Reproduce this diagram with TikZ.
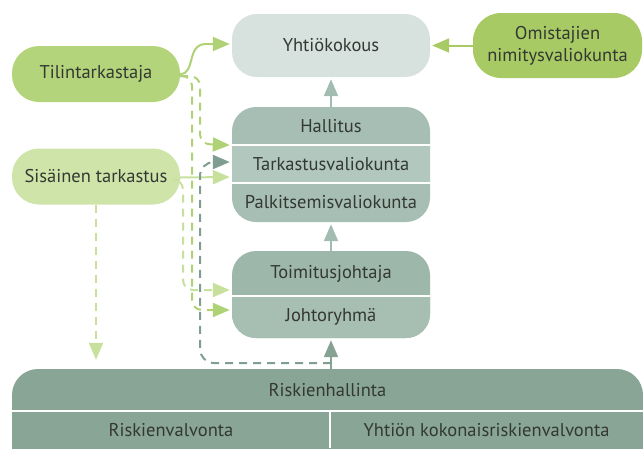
\documentclass[tikz,border=0pt]{standalone}
\usepackage{fontspec}
\setmainfont{PT Sans}
\usetikzlibrary{arrows.meta,calc}

\definecolor{txt}{HTML}{333833}
\definecolor{tilic}{HTML}{B4D47B}
\definecolor{omic}{HTML}{A8CA64}
\definecolor{sisc}{HTML}{CFE4A9}
\definecolor{ykc}{HTML}{D7E2DE}
\definecolor{halc}{HTML}{A7BEB4}
\definecolor{tarkc}{HTML}{B2C7BE}
\definecolor{tjc}{HTML}{9DB7AB}
\definecolor{jrc}{HTML}{A7BEB3}
\definecolor{riskc}{HTML}{89A596}
\definecolor{garrc}{HTML}{B0D276}
\definecolor{sarrc}{HTML}{C7E09C}
\definecolor{harrc}{HTML}{A3BCB1}
\definecolor{rarrc}{HTML}{86A293}
\definecolor{dashc}{HTML}{7F9E91}

\tikzset{
  blob/.style={rounded corners=27pt, minimum width=168pt, minimum height=56pt,
    inner sep=0pt, text=txt, align=center},
  row/.style={minimum width=198pt, inner sep=0pt, text=txt},
  tip/.style={-{Triangle[length=17pt,width=14pt]}, line width=2pt, shorten >=2pt},
  dashline/.style={tip, dash pattern=on 8pt off 6pt},
  sepline/.style={white, line width=2pt}
}

\begin{document}
\begin{tikzpicture}[x=1pt,y=-1pt,font=\fontsize{18.5}{21}\selectfont]
\useasboundingbox (0,0) rectangle (643,448);

% group backgrounds
\begin{scope}
  \clip (0,0) rectangle (643,448);
  \fill[halc, rounded corners=24pt] (232,107) rectangle (430,222);
  \fill[tarkc] (232,145) rectangle (430,183);
  \fill[tjc, rounded corners=24pt] (232,251) rectangle (430,338);
  \fill[riskc, rounded corners=26pt] (12,369) rectangle (643,480);
\end{scope}
\begin{scope}
  \clip (232,296) rectangle (430,338);
  \fill[jrc, rounded corners=24pt] (232,251) rectangle (430,338);
\end{scope}

% boxes
\node[blob, fill=ykc, minimum width=198pt, minimum height=63pt, rounded corners=25pt]
  (yk) at (331,45.5) {Yhtiökokous};
\node[blob, fill=omic, minimum width=169pt, minimum height=65pt, rounded corners=28pt,
  font=\fontsize{18.5}{22}\selectfont] (omi) at (557.5,45.5) {Omistajien\\nimitysvaliokunta};
\node[blob, fill=tilic] (tili) at (96,74) {Tilintarkastaja};
\node[blob, fill=sisc] (sis) at (96,176.5) {Sisäinen tarkastus};

% rows
\node[row, minimum height=38pt] (hal) at (331,126) {Hallitus};
\node[row, minimum height=38pt] (tark) at (331,164) {Tarkastusvaliokunta};
\node[row, minimum height=39pt] (palk) at (331,202.5) {Palkitsemisvaliokunta};
\node[row, minimum height=45pt] (tj) at (331,273.5) {Toimitusjohtaja};
\node[row, minimum height=42pt] (jr) at (331,317) {Johtoryhmä};
\node[minimum width=631pt, minimum height=42pt, inner sep=0pt, text=txt]
  (risk) at (327.5,390) {Riskienhallinta};
\node[minimum width=318pt, minimum height=37pt, inner sep=0pt, text=txt]
  (rv) at (171,430) {Riskienvalvonta};
\node[minimum width=313pt, minimum height=37pt, inner sep=0pt, text=txt]
  (ykr) at (486.5,430) {Yhtiön kokonaisriskienvalvonta};

% separators
\draw[sepline] (232,145) -- (430,145);
\draw[sepline] (232,183) -- (430,183);
\draw[sepline] (232,296) -- (430,296);
\draw[sepline] (12,411) -- (643,411);
\draw[sepline] (330,411) -- (330,448);

% solid arrows
\draw[tip, harrc] (hal.north) -- (yk.south);
\draw[tip, harrc] (tj.north) -- (palk.south);
\draw[tip, rarrc] (jr.south |- risk.north) -- (jr.south);
\draw[tip, omic] (omi.west) -- (yk.east);
\draw[tip, garrc] (tili.east) .. controls (196,74) and (186,44) .. (206,44) -- (yk.west |- 0,44);
\draw[tip, sarrc] ([yshift=-1pt]sis.east) -- (tark.west |- 0,177);

% dashed arrows
\coordinate (rj) at (331,363);
\draw[dashline, garrc, rounded corners=10pt] ([yshift=-2pt]tili.east) -| (200,144) -- (hal.south west);
\draw[dashline, garrc, rounded corners=10pt] ([yshift=-2pt]tili.east) -| (192,310) -- (jr.west |- 0,310);
\draw[dashline, sarrc, rounded corners=10pt] ([yshift=-3pt]sis.east) -| (183,290) -- (tj.west |- 0,290);
\draw[dashline, sarrc, shorten >=9pt] (sis.south) -- (sis.south |- risk.north);
\draw[dashline, dashc, rounded corners=14pt] (rj) -| (200,162) -- (tark.west |- 0,162);
\end{tikzpicture}
\end{document}
